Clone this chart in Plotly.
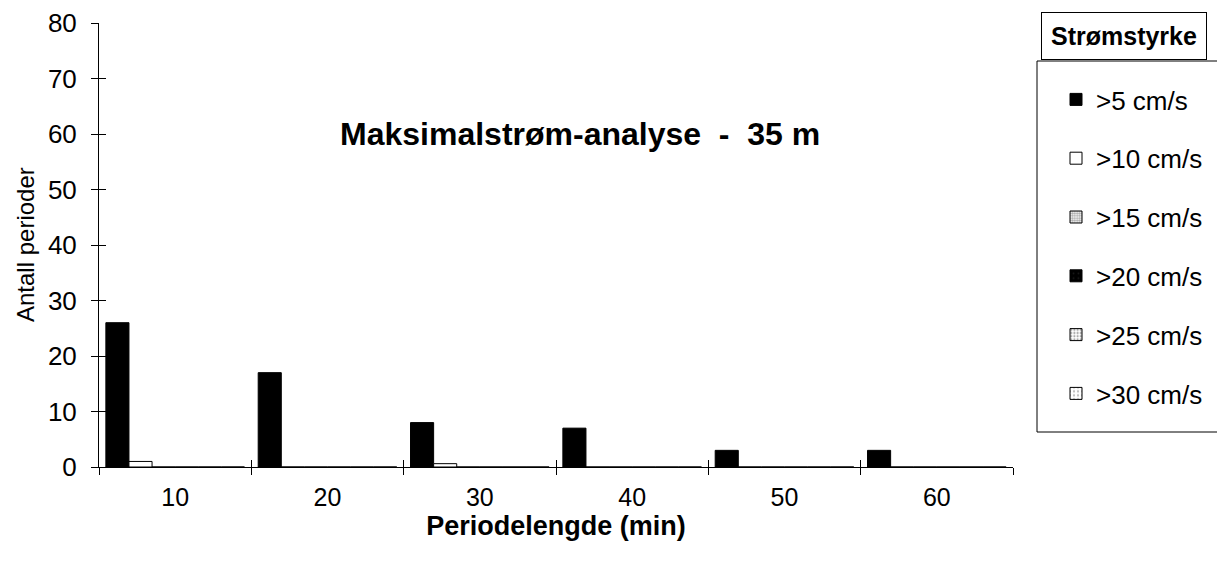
import plotly.graph_objects as go

# ---- data ----
categories = ["10", "20", "30", "40", "50", "60"]
series_names = [">5 cm/s", ">10 cm/s", ">15 cm/s", ">20 cm/s", ">25 cm/s", ">30 cm/s"]
s5 = [26, 17, 8, 7, 3, 3]
s10 = [1, 0, 0.6, 0, 0, 0]
s15 = [0, 0, 0, 0, 0, 0]
s20 = [0, 0, 0, 0, 0, 0]
s25 = [0, 0, 0, 0, 0, 0]
s30 = [0, 0, 0, 0, 0, 0]
series_values = [s5, s10, s15, s20, s25, s30]

# ---- styles ----
styles = [
    dict(color="black", pattern=None),
    dict(color="white", pattern=None),
    dict(color="white", pattern=dict(shape=".", fgcolor="#555555", size=3, solidity=0.6)),
    dict(color="black", pattern=dict(shape=".", fgcolor="#333333", size=6, solidity=0.1)),
    dict(color="white", pattern=dict(shape=".", fgcolor="#555555", size=4, solidity=0.4)),
    dict(color="white", pattern=dict(shape=".", fgcolor="#777777", size=5, solidity=0.25)),
]

FONT = "Liberation Sans, Arial, Helvetica, sans-serif"
NARROW = "Liberation Sans Narrow, Arial Narrow, Liberation Sans, sans-serif"

# screen geometry (page has 8px body margin)
L, T = 91, 15
PW, PH = 914, 444


def px(xs):
    return (xs - 99) / PW


def py(ys):
    return (467 - ys) / PH


fig = go.Figure()
for i, (name, vals) in enumerate(zip(series_names, series_values)):
    st = styles[i]
    marker = dict(color=st["color"], line=dict(color="black", width=1))
    if st["pattern"] is not None:
        marker["pattern"] = st["pattern"]
    fig.add_trace(go.Bar(
        x=categories, y=vals, name=name, marker=marker,
        legendgroup=f"g{i}",
    ))

# invisible helper trace for crossing-tick overlay axes
fig.add_trace(go.Scatter(x=[0.5], y=[1], xaxis="x2", yaxis="y2", mode="markers",
                         marker=dict(opacity=0), showlegend=False, hoverinfo="skip"))

fig.update_layout(
    width=1225, height=568,
    paper_bgcolor="white", plot_bgcolor="white",
    margin=dict(l=L, r=1225 - L - PW, t=T, b=568 - T - PH, autoexpand=False),
    barmode="group", bargap=0.09, bargroupgap=0,
    font=dict(family=FONT, color="black", size=22),
    showlegend=True,
    legend=dict(
        x=px(1056), y=py(76), xanchor="left", yanchor="top",
        borderwidth=0, bgcolor="rgba(0,0,0,0)",
        font=dict(family=FONT, size=26, color="black"),
        tracegroupgap=22, traceorder="grouped",
        itemwidth=30,
    ),
    xaxis=dict(
        type="category", categoryorder="array", categoryarray=categories,
        range=[-0.5, 5.5],
        tickson="boundaries", ticks="outside", ticklen=7, tickcolor="black", tickwidth=1,
        showline=True, linecolor="black", linewidth=1,
        showgrid=False, zeroline=False,
        tickfont=dict(family=FONT, size=25),
        ticklabelstandoff=8,
        title=dict(text="<b>Periodelengde (min)</b>", font=dict(family=FONT, size=27), standoff=6),
    ),
    yaxis=dict(
        range=[0, 80], dtick=10, tick0=0,
        ticks="outside", ticklen=7, tickcolor="black", tickwidth=1,
        showline=True, linecolor="black", linewidth=1,
        showgrid=False, zeroline=False,
        tickfont=dict(family=FONT, size=26),
        ticklabelstandoff=9,
    ),
    xaxis2=dict(
        overlaying="x", range=[0, 6], tickvals=[1, 2, 3, 4, 5, 6], ticks="inside", ticklen=7,
        tickcolor="black", showticklabels=False, showgrid=False, zeroline=False, showline=False,
        side="bottom",
    ),
    yaxis2=dict(
        overlaying="y", range=[0, 80], dtick=10, ticks="inside", ticklen=7,
        tickcolor="black", showticklabels=False, showgrid=False, zeroline=False, showline=False,
        side="left",
    ),
    shapes=[
        dict(type="rect", xref="paper", yref="paper",
             x0=px(1037), x1=px(1240), y0=py(432), y1=py(61),
             line=dict(color="black", width=1), fillcolor="rgba(0,0,0,0)", layer="below"),
    ],
    annotations=[
        dict(text="Antall perioder", xref="paper", yref="paper",
             x=px(25), y=py(245), xanchor="center", yanchor="middle", showarrow=False,
             textangle=-90, font=dict(family=NARROW, size=24, color="black")),
        dict(text="<b>Maksimalstrøm-analyse  -  35 m</b>", xref="paper", yref="paper",
             x=px(580), y=py(134), xanchor="center", yanchor="middle", showarrow=False,
             font=dict(family=FONT, size=32, color="black")),
        dict(text="<b>Strømstyrke</b>", xref="paper", yref="paper",
             x=px(1124), y=py(36), xanchor="center", yanchor="middle", showarrow=False,
             font=dict(family=FONT, size=25, color="black"),
             bordercolor="black", borderwidth=1, borderpad=9, bgcolor="white"),
    ],
)

fig.write_html("out.html")
